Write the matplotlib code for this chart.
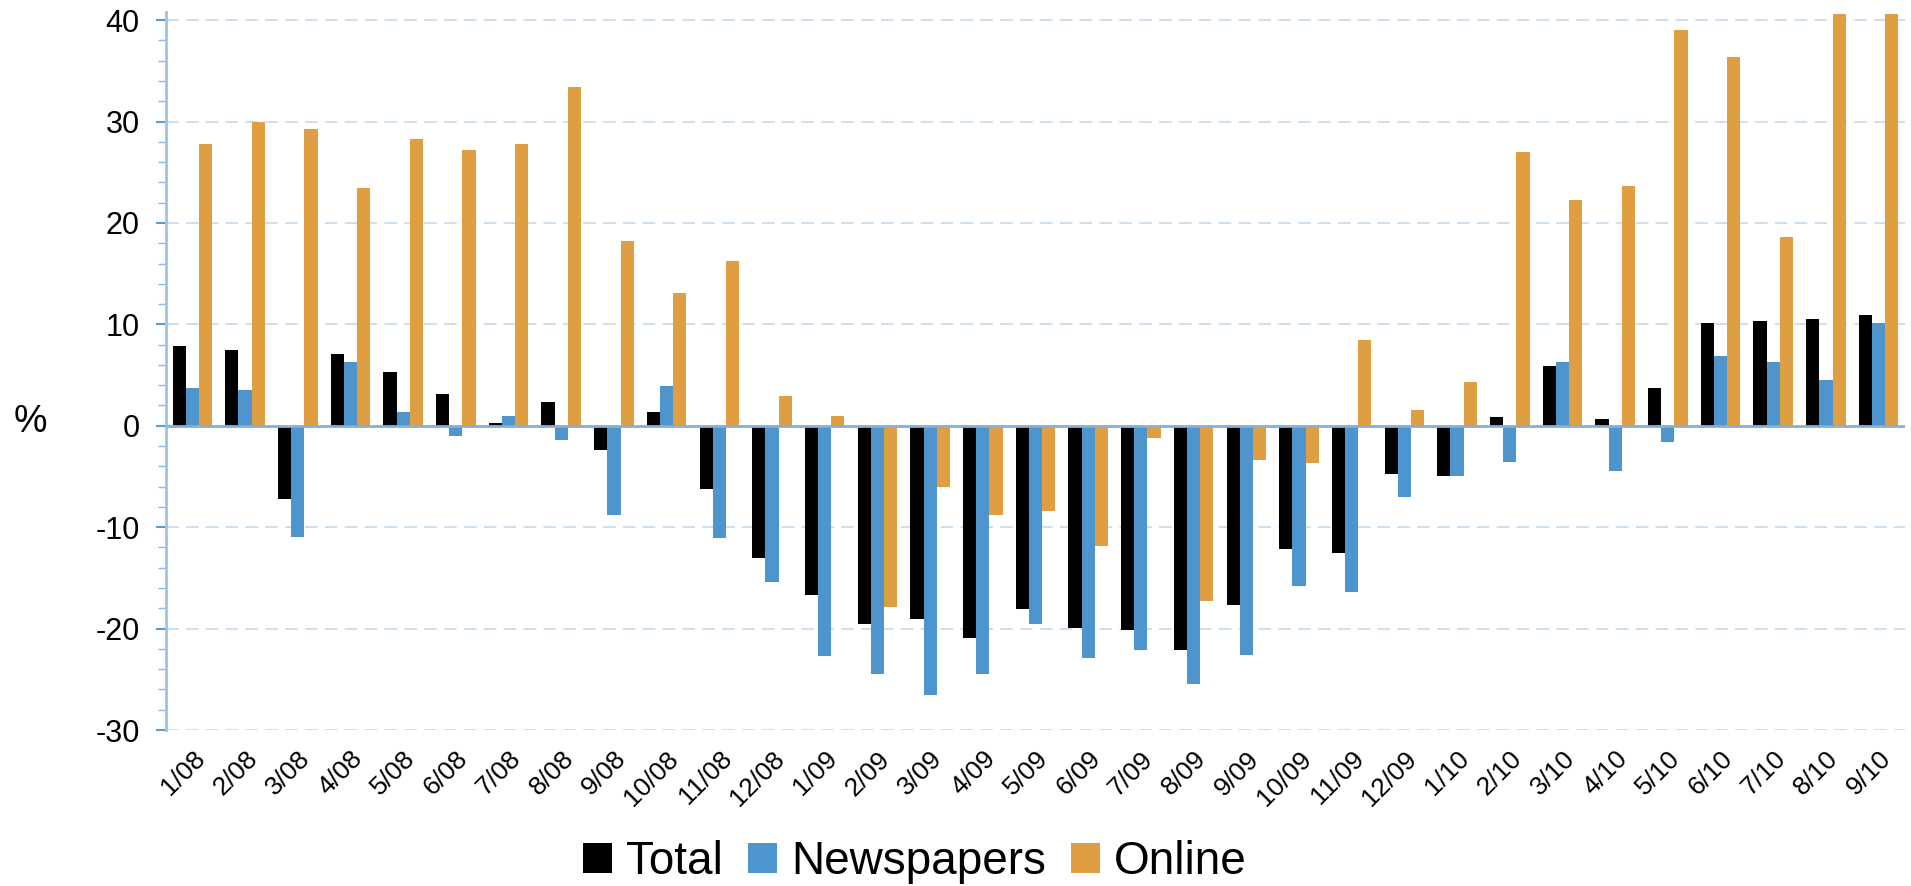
import numpy as np
import matplotlib as mpl
mpl.rcParams['font.family'] = ['Liberation Sans', 'DejaVu Sans']
mpl.rcParams['axes.unicode_minus'] = False
import matplotlib.pyplot as plt
from matplotlib.ticker import MultipleLocator

# month labels
months = ['1/08', '2/08', '3/08', '4/08', '5/08', '6/08', '7/08', '8/08', '9/08', '10/08', '11/08', '12/08',
          '1/09', '2/09', '3/09', '4/09', '5/09', '6/09', '7/09', '8/09', '9/09', '10/09', '11/09', '12/09',
          '1/10', '2/10', '3/10', '4/10', '5/10', '6/10', '7/10', '8/10', '9/10']

# % change
total = [7.9, 7.5, -7.2, 7.1, 5.3, 3.1, 0.3, 2.3, -2.4, 1.4, -6.2, -13.0,
         -16.7, -19.5, -19.1, -20.9, -18.1, -19.9, -20.1, -22.1, -17.7, -12.2, -12.5, -4.8,
         -5.0, 0.85, 5.9, 0.65, 3.7, 10.1, 10.3, 10.5, 10.9]
newspapers = [3.7, 3.5, -11.0, 6.3, 1.35, -1.0, 0.95, -1.4, -8.8, 3.9, -11.1, -15.4,
              -22.7, -24.5, -26.5, -24.5, -19.5, -22.9, -22.1, -25.5, -22.6, -15.8, -16.4, -7.0,
              -5.0, -3.6, 6.3, -4.5, -1.6, 6.9, 6.3, 4.5, 10.1]
online = [27.8, 30.0, 29.25, 23.4, 28.3, 27.2, 27.8, 33.4, 18.2, 13.1, 16.2, 2.9,
          0.95, -17.9, -6.0, -8.8, -8.4, -11.9, -1.2, -17.3, -3.4, -3.7, 8.45, 1.55,
          4.3, 27.0, 22.25, 23.6, 39.0, 36.35, 18.6, 40.6, 40.6]

series = [('Total', total, '#000000'),
          ('Newspapers', newspapers, '#4e94cd'),
          ('Online', online, '#e09e42')]

W, H = 1911, 886
fig = plt.figure(figsize=(W / 100, H / 100), dpi=100)
ax = fig.add_axes([166 / W, 1 - 730 / H, (1905 - 166) / W, (730 - 12) / H])

x = np.arange(len(months))
w = 0.25
handles = []
for k, (name, vals, col) in enumerate(series):
    b = ax.bar(x + (k - 1) * w, vals, width=w, color=col, label=name, zorder=3)
    handles.append(b)

ax.set_xlim(-0.5, len(months) - 0.5)
ax.set_ylim(-30, 40.8)

# grid
ax.yaxis.set_major_locator(MultipleLocator(10))
ax.yaxis.set_minor_locator(MultipleLocator(2))
for v in [-30, -20, -10, 10, 20, 30, 40]:
    ax.axhline(v, color='#c6ddf2', lw=1.3, ls=(0, (7, 4)), zorder=1)
ax.axhline(0, color='#86afd6', lw=2, zorder=4)

for s in ['top', 'right', 'bottom']:
    ax.spines[s].set_visible(False)
ax.spines['left'].set_color('#9dc3e6')
ax.spines['left'].set_linewidth(2)

ax.tick_params(axis='y', which='major', length=7, width=1.5, color='#5b9bd5',
               labelsize=22, pad=12)
ax.tick_params(axis='y', which='minor', length=6, width=1, color='#8db8e2')
ax.set_yticks([40, 30, 20, 10, 0, -10, -20, -30])

ax.set_xticks(x)
ax.set_xticklabels(months, rotation=45, ha='right', rotation_mode='anchor', fontsize=19)
ax.tick_params(axis='x', length=0, pad=12)

fig.text(30 / W, 1 - 422 / H, '%', fontsize=27, ha='center', va='center')

fig.legend(handles=handles, loc='center', bbox_to_anchor=(915 / W, 1 - 862 / H),
           ncol=3, frameon=False, fontsize=33, handlelength=0.63, handleheight=0.63,
           handletextpad=0.3, columnspacing=0.56, borderpad=0)

fig.savefig('out.png', dpi=100)
